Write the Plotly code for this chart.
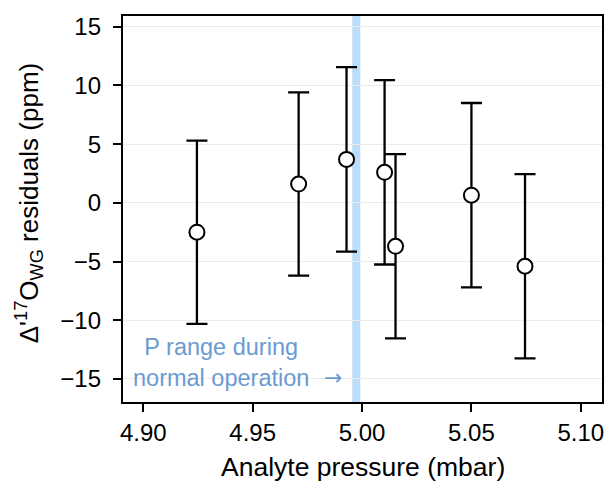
import plotly.graph_objects as go

pressure = [4.9245, 4.971, 4.9929, 5.0103, 5.0153, 5.050, 5.0745]
residuals = [-2.5, 1.6, 3.7, 2.6, -3.7, 0.65, -5.4]
errors = [7.8, 7.8, 7.85, 7.85, 7.85, 7.85, 7.85]
band = [4.9955, 4.9992]
xticks = [4.90, 4.95, 5.00, 5.05, 5.10]
yticks = [-15, -10, -5, 0, 5, 10, 15]

font = "Liberation Sans, Arial, Helvetica, sans-serif"
blue = "#6b9bd1"

fig = go.Figure()
fig.add_vrect(x0=band[0], x1=band[1], fillcolor="#bcdcfb", line_width=0, layer="below", opacity=1)
fig.add_trace(go.Scatter(
    x=pressure, y=residuals, mode="markers",
    error_y=dict(type="data", array=errors, visible=True, color="black", thickness=2.3, width=10.5),
    marker=dict(size=15, color="white", line=dict(color="black", width=2)),
    showlegend=False, cliponaxis=False,
))
fig.add_annotation(x=4.9355, y=-13.6, xref="x", yref="y", text="P range during<br>normal operation",
                   showarrow=False, font=dict(family=font, size=23.5, color=blue), align="center")
fig.add_annotation(x=4.9865, y=-14.85, xref="x", yref="y", text="→",
                   showarrow=False, font=dict(family="DejaVu Sans", size=22, color=blue))
# axis titles
fig.add_annotation(x=0.5, y=-0.168, xref="paper", yref="paper", text="Analyte pressure (mbar)",
                   showarrow=False, xanchor="center", yanchor="middle",
                   font=dict(family=font, size=26.5, color="black"))
fig.add_annotation(x=0, y=0.516, xref="paper", yref="paper", xshift=-94.5,
                   text="Δ'<sup>17</sup>O<sub>WG</sub> residuals (ppm)", textangle=-90,
                   showarrow=False, xanchor="center", yanchor="middle",
                   font=dict(family=font, size=26, color="black"))

axis_common = dict(showline=True, linecolor="black", linewidth=2.3, mirror=True,
                   ticks="outside", ticklen=8, tickwidth=2.3, tickcolor="black",
                   tickfont=dict(family=font, size=24, color="black"), zeroline=False,
                   automargin=False)
fig.update_xaxes(range=[4.8907, 5.1097], tickvals=xticks, ticktext=[f"{v:.2f}" for v in xticks],
                 showgrid=False, **axis_common)
fig.update_yaxes(range=[-16.96, 15.91], tickvals=yticks, ticktext=[str(v).replace("-", "−") for v in yticks],
                 showgrid=True, gridcolor="#ebebeb", gridwidth=1.2, ticklabelstandoff=7,
                 **axis_common)
fig.update_layout(width=607, height=481, margin=dict(l=123, r=5, t=16, b=79),
                  plot_bgcolor="white", paper_bgcolor="white")
fig.write_html("out.html", config={"displayModeBar": False},
               post_script="document.body.style.margin='0';document.documentElement.style.overflow='hidden';document.body.style.overflow='hidden';")
